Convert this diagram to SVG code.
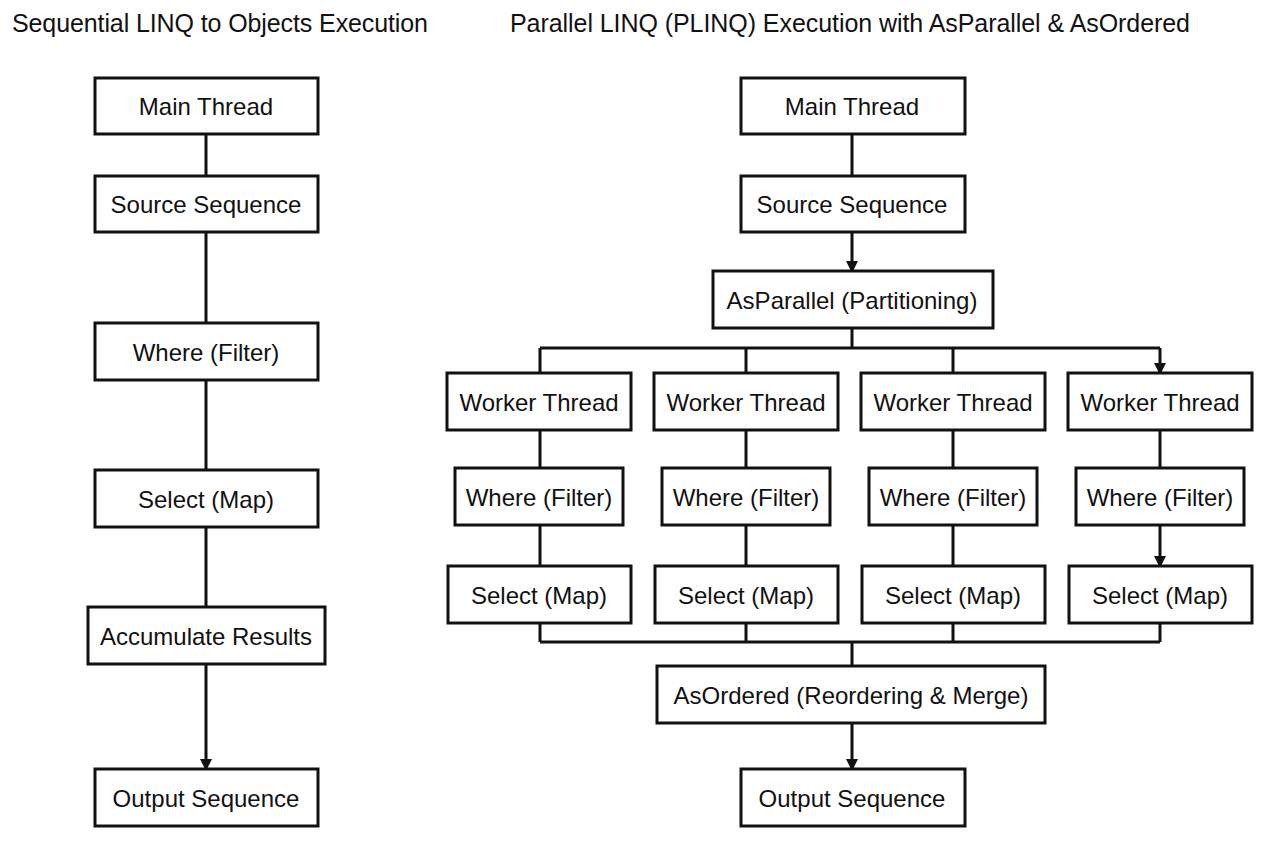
<svg xmlns="http://www.w3.org/2000/svg" width="1264" height="848" viewBox="0 0 1264 848">
<style>
.b{fill:#fff;stroke:#111;stroke-width:3}
.t{font-family:"Liberation Sans",Arial,sans-serif;font-size:24px;fill:#111;text-anchor:middle;dominant-baseline:central}
.h{font-family:"Liberation Sans",Arial,sans-serif;font-size:25px;fill:#111}
.c{fill:none;stroke:#111;stroke-width:3}
</style>
<defs><marker id="a" markerWidth="12" markerHeight="12" refX="10" refY="6" orient="auto" markerUnits="userSpaceOnUse"><path d="M0,0 L12,6 L0,12 z" fill="#111"/></marker></defs>
<rect width="1264" height="848" fill="#fff"/>
<text class="h" x="12" y="32" textLength="416">Sequential LINQ to Objects Execution</text>
<text class="h" x="510" y="32" textLength="680">Parallel LINQ (PLINQ) Execution with AsParallel &amp; AsOrdered</text>
<g id="connectors">
<path class="c" marker-end="url(#a)" d="M206,134V176M206,232V323M206,380V470M206,527V607M206,664V769"/>
<path class="c" marker-end="url(#a)" d="M852,134V176M852,232V271"/>
<path class="c" d="M852,328V348M540,348H1160"/>
<path class="c" marker-end="url(#a)" d="M540,348V373M746,348V373M953,348V373M1160,348V373"/>
<path class="c" marker-end="url(#a)" d="M540,430V468M746,430V468M953,430V468M1160,430V468M540,525V566M746,525V566M953,525V566M1160,525V566"/>
<path class="c" d="M540,623V642M746,623V642M953,623V642M1160,623V642M540,642H1160"/>
<path class="c" marker-end="url(#a)" d="M852,642V666M852,723V769"/>
</g>
<g id="l1"><rect class="b" x="95" y="78" width="223" height="56"/><text class="t" x="206" y="106">Main Thread</text></g>
<g id="l2"><rect class="b" x="95" y="176" width="223" height="56"/><text class="t" x="206" y="204">Source Sequence</text></g>
<g id="l3"><rect class="b" x="95" y="323" width="223" height="57"/><text class="t" x="206" y="352">Where (Filter)</text></g>
<g id="l4"><rect class="b" x="95" y="470" width="223" height="57"/><text class="t" x="206" y="499">Select (Map)</text></g>
<g id="l5"><rect class="b" x="88" y="607" width="237" height="57"/><text class="t" x="206" y="636">Accumulate Results</text></g>
<g id="l6"><rect class="b" x="95" y="769" width="223" height="57"/><text class="t" x="206" y="798">Output Sequence</text></g>
<g id="r1"><rect class="b" x="741" y="78" width="224" height="56"/><text class="t" x="852" y="106">Main Thread</text></g>
<g id="r2"><rect class="b" x="741" y="176" width="224" height="56"/><text class="t" x="852" y="204">Source Sequence</text></g>
<g id="r3"><rect class="b" x="713" y="271" width="280" height="57"/><text class="t" x="852" y="300">AsParallel (Partitioning)</text></g>
<g id="w1"><rect class="b" x="447" y="373" width="184" height="57"/><text class="t" x="539" y="402">Worker Thread</text></g>
<g id="w2"><rect class="b" x="654" y="373" width="184" height="57"/><text class="t" x="746" y="402">Worker Thread</text></g>
<g id="w3"><rect class="b" x="861" y="373" width="184" height="57"/><text class="t" x="953" y="402">Worker Thread</text></g>
<g id="w4"><rect class="b" x="1068" y="373" width="184" height="57"/><text class="t" x="1160" y="402">Worker Thread</text></g>
<g id="f1"><rect class="b" x="455" y="468" width="168" height="57"/><text class="t" x="539" y="497">Where (Filter)</text></g>
<g id="f2"><rect class="b" x="662" y="468" width="168" height="57"/><text class="t" x="746" y="497">Where (Filter)</text></g>
<g id="f3"><rect class="b" x="869" y="468" width="168" height="57"/><text class="t" x="953" y="497">Where (Filter)</text></g>
<g id="f4"><rect class="b" x="1076" y="468" width="168" height="57"/><text class="t" x="1160" y="497">Where (Filter)</text></g>
<g id="s1"><rect class="b" x="448" y="566" width="183" height="57"/><text class="t" x="539" y="595">Select (Map)</text></g>
<g id="s2"><rect class="b" x="655" y="566" width="183" height="57"/><text class="t" x="746" y="595">Select (Map)</text></g>
<g id="s3"><rect class="b" x="862" y="566" width="183" height="57"/><text class="t" x="953" y="595">Select (Map)</text></g>
<g id="s4"><rect class="b" x="1069" y="566" width="183" height="57"/><text class="t" x="1160" y="595">Select (Map)</text></g>
<g id="r4"><rect class="b" x="657" y="666" width="388" height="57"/><text class="t" x="851" y="695">AsOrdered (Reordering &amp; Merge)</text></g>
<g id="r5"><rect class="b" x="741" y="769" width="224" height="57"/><text class="t" x="852" y="798">Output Sequence</text></g>
</svg>
